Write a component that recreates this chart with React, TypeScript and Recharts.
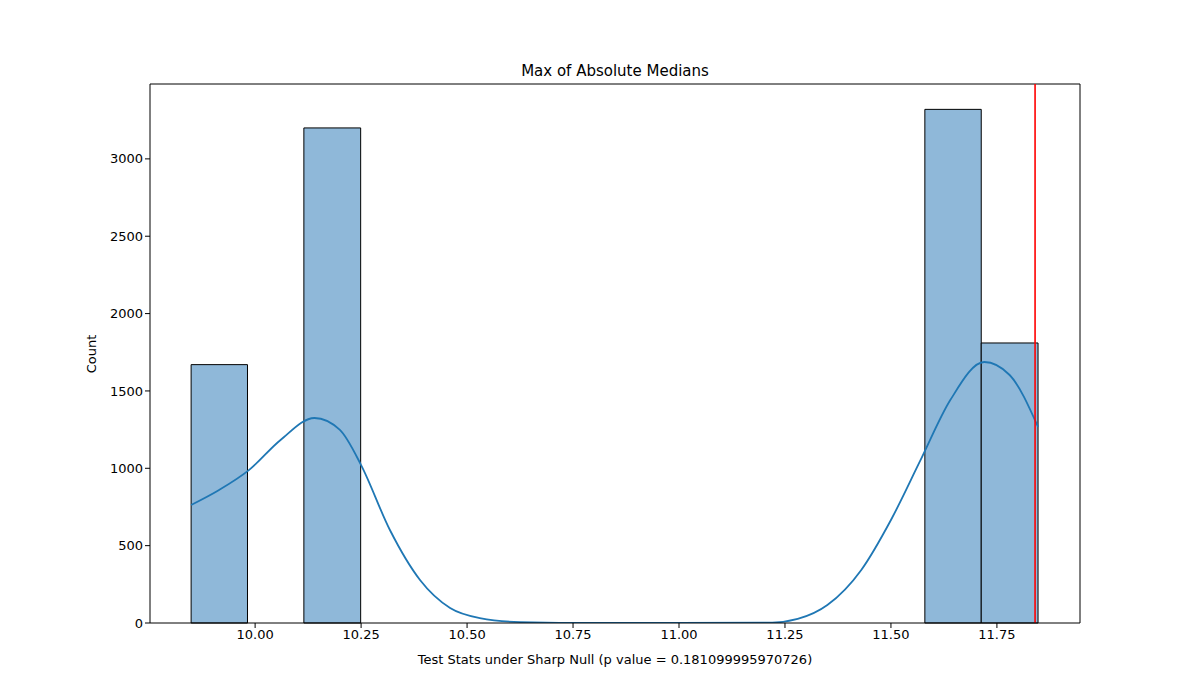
import React from "react";
import {
  ComposedChart,
  Line,
  XAxis,
  YAxis,
  ReferenceArea,
  ReferenceLine,
} from "recharts";

// histogram bins (left edge, right edge, count)
const binStarts = [9.849, 10.115, 11.58, 11.713];
const binEnds = [9.982, 10.249, 11.713, 11.847];
const binCounts = [1670, 3200, 3320, 1810];

// kde curve
const kdeX = [9.849, 9.915, 9.986, 10.06, 10.14, 10.2, 10.25, 10.318, 10.389, 10.46, 10.53, 10.625, 10.81, 11.0, 11.22, 11.28, 11.35, 11.43, 11.5, 11.57, 11.64, 11.72, 11.78, 11.847];
const kdeY = [763, 860, 990, 1183, 1325, 1248, 1021, 601, 278, 97, 32, 6, 0, 0, 3, 26, 116, 343, 666, 1054, 1441, 1687, 1603, 1267];

const xTicks = [10.0, 10.25, 10.5, 10.75, 11.0, 11.25, 11.5, 11.75];
const yTicks = [0, 500, 1000, 1500, 2000, 2500, 3000];
const observed = 11.84;

const kde = kdeX.map((x, i) => ({ x, y: kdeY[i] }));
const font = "DejaVu Sans, sans-serif";
const tick = { fill: "#000", fontSize: 13, fontFamily: font };

export default function App() {
  return (
    <div style={{ position: "absolute", left: 0, top: 0, width: 1200, height: 700, background: "#fff" }}>
      <ComposedChart width={1200} height={700} data={kde} margin={{ top: 84, right: 120, bottom: 47, left: 90 }}>
        <XAxis
          dataKey="x"
          type="number"
          domain={[9.752, 11.946]}
          ticks={xTicks}
          tickFormatter={(v: number) => v.toFixed(2)}
          tick={tick}
          tickLine={{ stroke: "#000" }}
          axisLine={{ stroke: "#000" }}
          tickSize={5}
          height={30}
          allowDataOverflow
        />
        <YAxis
          type="number"
          domain={[0, 3484]}
          ticks={yTicks}
          tick={tick}
          tickLine={{ stroke: "#000" }}
          axisLine={{ stroke: "#000" }}
          tickSize={5}
          width={60}
          allowDataOverflow
        />
        <ReferenceLine y={3484} stroke="#000" />
        <ReferenceLine x={11.946} stroke="#000" />
        {binStarts.map((s, i) => (
          <ReferenceArea
            key={i}
            x1={s}
            x2={binEnds[i]}
            y1={0}
            y2={binCounts[i]}
            fill="#8fb8d9"
            fillOpacity={1}
            stroke="#000"
            strokeOpacity={1}
          />
        ))}
        <Line dataKey="y" type="monotone" stroke="#1f77b4" strokeWidth={1.8} dot={false} isAnimationActive={false} />
        <ReferenceLine x={observed} stroke="#ff0000" strokeWidth={1.6} />
        <text x={615} y={76} textAnchor="middle" fontSize={15} fontFamily={font}>Max of Absolute Medians</text>
        <text x={615} y={664} textAnchor="middle" fontSize={13} fontFamily={font}>
          Test Stats under Sharp Null (p value = 0.181099995970726)
        </text>
        <text x={96} y={354} textAnchor="middle" fontSize={13} fontFamily={font} transform="rotate(-90 96 354)">Count</text>
      </ComposedChart>
    </div>
  );
}
